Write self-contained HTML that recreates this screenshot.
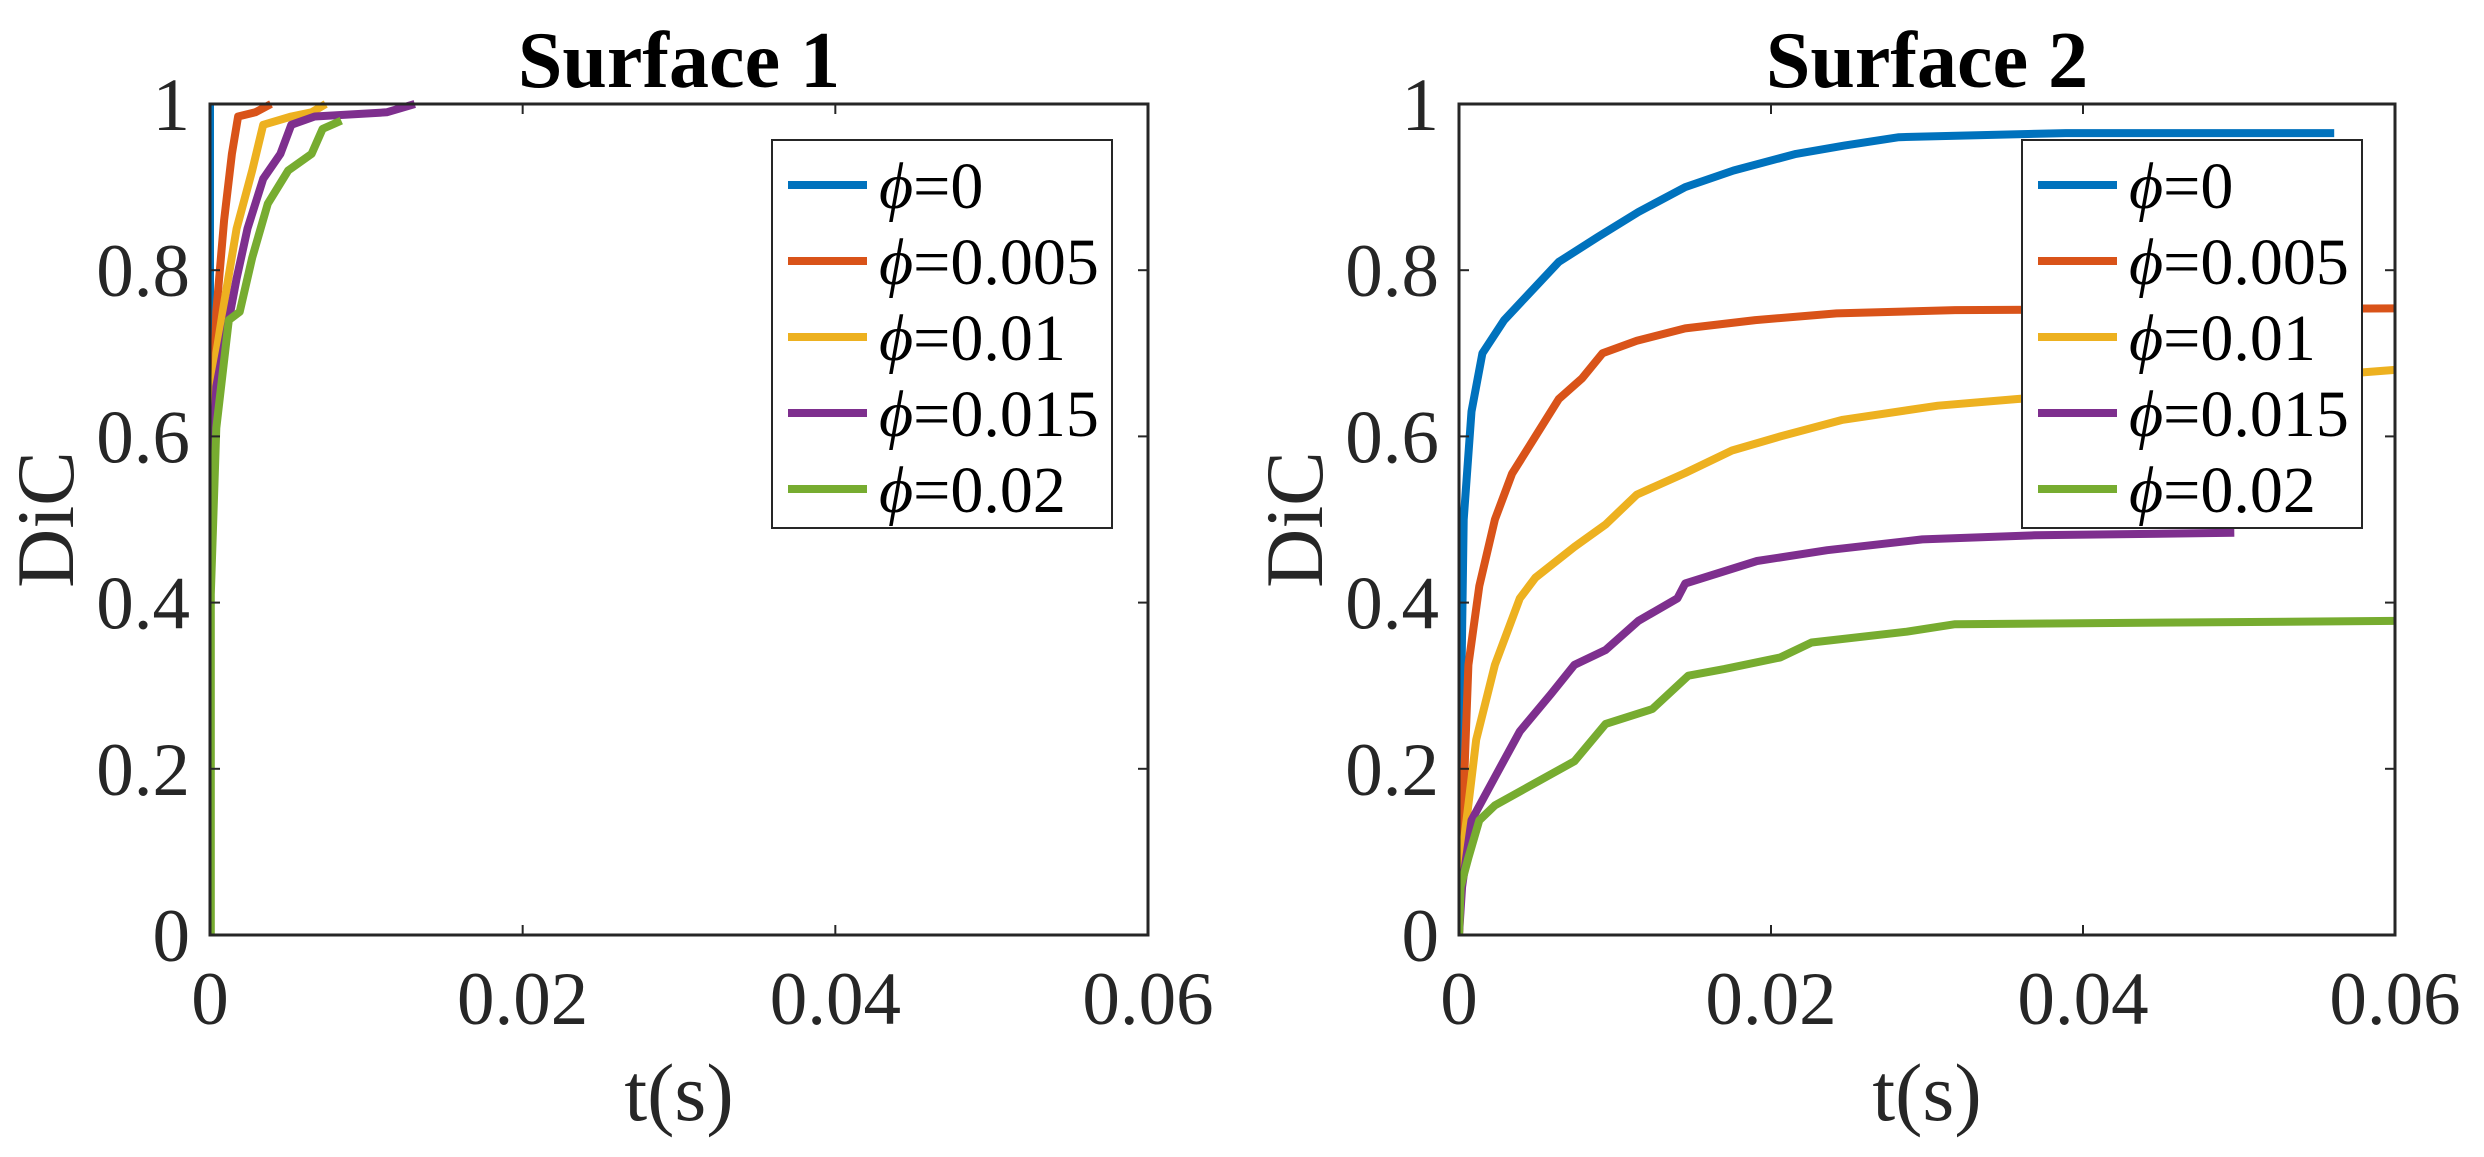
<!DOCTYPE html>
<html><head><meta charset="utf-8"><style>
html,body{margin:0;padding:0;background:#fff;}
svg{display:block;font-family:"Liberation Serif",serif;}
</style></head><body>
<svg id="fig" width="2484" height="1157" viewBox="0 0 2484 1157"></svg>
<script>
const seriesLabels = ["0","0.005","0.01","0.015","0.02"];
const seriesColors = ["#0072BD","#D95319","#EDB120","#7E2F8E","#77AC30"];
const xTicks = [0,0.02,0.04,0.06];
const xTickLabels = ["0","0.02","0.04","0.06"];
const yTicks = [0,0.2,0.4,0.6,0.8,1];
const yTickLabels = ["0","0.2","0.4","0.6","0.8","1"];
// Surface 1
const s1t0 = [0,0]; const s1y0 = [0,1];
const s1t1 = [0.00005,0.0004,0.0009,0.0014,0.0018,0.0029,0.0039];
const s1y1 = [0.51,0.75,0.86,0.94,0.985,0.99,1.0];
const s1t2 = [0.00005,0.0004,0.0009,0.0017,0.0027,0.0034,0.0052,0.0065,0.0074];
const s1y2 = [0.50,0.70,0.76,0.85,0.92,0.975,0.985,0.99,1.0];
const s1t3 = [0,0.0004,0.0012,0.0017,0.0024,0.0034,0.0045,0.0052,0.0067,0.0113,0.0131];
const s1y3 = [0.47,0.66,0.74,0.79,0.85,0.91,0.94,0.975,0.985,0.99,1.0];
const s1t4 = [0.00005,0.00005,0.0004,0.0012,0.0019,0.0027,0.0037,0.005,0.0065,0.0072,0.0084];
const s1y4 = [0,0.41,0.61,0.74,0.75,0.815,0.88,0.92,0.94,0.97,0.98];
// Surface 2
const s2t0 = [0,0.0001,0.0003,0.0008,0.0015,0.0029,0.0044,0.0064,0.0089,0.0115,0.0145,0.0176,0.0216,0.0247,0.0282,0.0389,0.0561];
const s2y0 = [0,0.24,0.50,0.63,0.70,0.74,0.77,0.81,0.84,0.87,0.90,0.92,0.94,0.95,0.96,0.965,0.965];
const s2t1 = [0,0.0002,0.0006,0.0013,0.0023,0.0034,0.0049,0.0064,0.0079,0.0092,0.0114,0.0145,0.019,0.0242,0.0318,0.06];
const s2y1 = [0,0.12,0.325,0.42,0.50,0.555,0.60,0.645,0.67,0.70,0.715,0.73,0.74,0.748,0.752,0.754];
const s2t2 = [0,0.0003,0.0011,0.0023,0.0039,0.0049,0.0074,0.0094,0.0114,0.0145,0.0175,0.0206,0.0246,0.0307,0.0358,0.06];
const s2y2 = [0,0.11,0.235,0.325,0.405,0.43,0.467,0.494,0.53,0.556,0.583,0.60,0.62,0.637,0.645,0.68];
const s2t3 = [0,0.0002,0.0008,0.0023,0.0039,0.0059,0.0074,0.0094,0.0115,0.014,0.0145,0.0191,0.0236,0.0297,0.0369,0.0497];
const s2y3 = [0,0.058,0.138,0.19,0.245,0.29,0.325,0.343,0.378,0.405,0.423,0.45,0.463,0.476,0.481,0.484];
const s2t4 = [0,0.0001,0.0006,0.0013,0.0023,0.0049,0.0074,0.0094,0.0124,0.0147,0.017,0.0206,0.0226,0.0287,0.0318,0.06];
const s2y4 = [0,0.058,0.093,0.138,0.156,0.183,0.209,0.254,0.272,0.312,0.32,0.334,0.352,0.365,0.374,0.378];

const NS="http://www.w3.org/2000/svg";
const fig=document.getElementById('fig');
function mk(tag,attrs,parent){const e=document.createElementNS(NS,tag);for(const k in attrs)e.setAttribute(k,attrs[k]);(parent||fig).appendChild(e);return e;}

function panel(id,title,L,R,T,B,ts,ys,legX){
  const g=mk('g',{});
  
  
  const xs=v=>L+(v/0.06)*(R-L);
  const yv=v=>B-v*(B-T);
  const clipId=id+'-clip';
  const cp=mk('clipPath',{id:clipId},g);
  mk('rect',{x:L,y:T-4,width:R-L+4,height:B-T+8},cp);
  const lines=mk('g',{'clip-path':'url(#'+clipId+')'},g);
  for(let s=0;s<5;s++){
    const pts=ts[s].map((t,i)=>xs(t).toFixed(1)+','+yv(ys[s][i]).toFixed(1)).join(' ');
    const pl=mk('polyline',{points:pts,fill:'none',stroke:seriesColors[s],'stroke-width':8,'stroke-linejoin':'round'},lines);
    
    
  }
  const box=mk('rect',{x:L,y:T,width:R-L,height:B-T,fill:'none',stroke:'#262626','stroke-width':3},g);
  
  
  xTicks.forEach((v,i)=>{
    const x=xs(v);
    mk('line',{x1:x,y1:B,x2:x,y2:B-10,stroke:'#262626','stroke-width':2},g);
    mk('line',{x1:x,y1:T,x2:x,y2:T+10,stroke:'#262626','stroke-width':2},g);
    const t=mk('text',{x:x,y:1024,'text-anchor':'middle','font-size':75,fill:'#262626'},g);
    t.textContent=xTickLabels[i];
    
    
  });
  yTicks.forEach((v,i)=>{
    const y=yv(v);
    mk('line',{x1:L,y1:y,x2:L+10,y2:y,stroke:'#262626','stroke-width':2},g);
    mk('line',{x1:R,y1:y,x2:R-10,y2:y,stroke:'#262626','stroke-width':2},g);
    const t=mk('text',{x:L-20,y:y+26,'text-anchor':'end','font-size':75,fill:'#262626'},g);
    t.textContent=yTickLabels[i];
    
    
  });
  const ti=mk('text',{x:(L+R)/2,y:87,'text-anchor':'middle','font-size':80,'font-weight':'bold',fill:'#000'},g);
  ti.textContent=title;
  
  
  const xl=mk('text',{x:(L+R)/2,y:1120,'text-anchor':'middle','font-size':82,fill:'#262626'},g);
  xl.textContent='t(s)';
  
  
  const yl=mk('text',{x:0,y:0,'text-anchor':'middle','font-size':82,fill:'#262626',transform:'translate('+(L-137)+','+((T+B)/2)+') rotate(-90)'},g);
  yl.textContent='DiC';
  
  
  const lg=mk('g',{},g);
  
  
  mk('rect',{x:legX,y:140,width:340,height:388,fill:'#fff',stroke:'#262626','stroke-width':2},lg);
  const rows=[185,261,337,413,489];
  for(let s=0;s<5;s++){
    const e=mk('g',{},lg);
    
    
    mk('line',{x1:legX+16,y1:rows[s],x2:legX+95,y2:rows[s],stroke:seriesColors[s],'stroke-width':8},e);
    const t=mk('text',{x:legX+107,y:rows[s]+23,'font-size':66,fill:'#000'},e);
    const ph=mk('tspan',{'font-style':'italic'},t); ph.textContent='\u03D5';
    const rest=mk('tspan',{},t); rest.textContent='='+seriesLabels[s];
  }
}
panel('surface-1','Surface 1',210,1148,104,935,[s1t0,s1t1,s1t2,s1t3,s1t4],[s1y0,s1y1,s1y2,s1y3,s1y4],772);
panel('surface-2','Surface 2',1459,2395,104,935,[s2t0,s2t1,s2t2,s2t3,s2t4],[s2y0,s2y1,s2y2,s2y3,s2y4],2022);
</script>
</body></html>
